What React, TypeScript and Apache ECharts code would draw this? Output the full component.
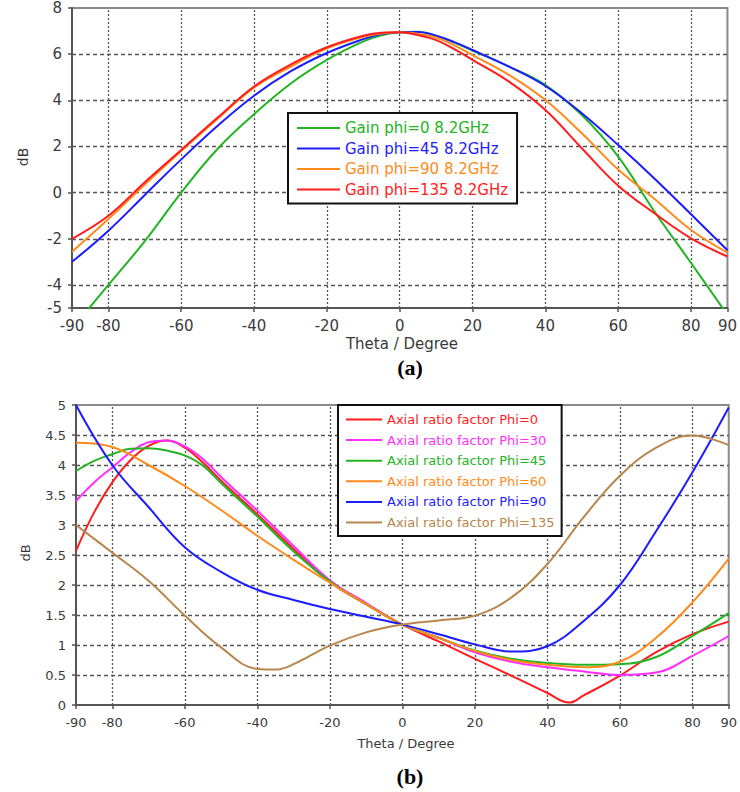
import React, { useEffect, useRef } from 'react';
import * as echarts from 'echarts';

// ---------- data ----------
// (a) Gain, dB
const THETA_A = [-90, -80, -70, -60, -50, -40, -30, -20, -10, -5, 0, 5, 10, 15, 20, 30, 40, 50, 60, 70, 80, 90];
const GAIN_PHI0 = [-5.9, -4.0, -2.1, 0.0, 1.9, 3.4, 4.72, 5.75, 6.55, 6.82, 6.95, 6.97, 6.8, 6.5, 6.15, 5.46, 4.66, 3.36, 1.56, -0.83, -3.05, -5.3];
const GAIN_PHI45 = [-3.0, -1.65, -0.1, 1.44, 2.9, 4.2, 5.25, 6.05, 6.65, 6.87, 6.95, 6.96, 6.8, 6.52, 6.18, 5.46, 4.62, 3.44, 2.06, 0.6, -0.94, -2.5];
const GAIN_PHI90 = [-2.56, -1.14, 0.35, 1.8, 3.2, 4.55, 5.45, 6.25, 6.75, 6.9, 6.95, 6.88, 6.72, 6.38, 5.96, 5.1, 4.01, 2.57, 1.0, -0.28, -1.62, -2.6];
const GAIN_PHI135 = [-2.0, -1.0, 0.45, 1.85, 3.25, 4.6, 5.55, 6.3, 6.8, 6.93, 6.95, 6.83, 6.61, 6.22, 5.75, 4.81, 3.58, 1.92, 0.3, -0.9, -1.98, -2.77];

// (b) Axial ratio, dB
const THETA_B = [-90, -80, -70, -60, -50, -40, -30, -20, -10, 0, 10, 20, 30, 40, 50, 60, 70, 80, 90];
const THETA_B_FINE = [-90, -85, -80, -75, -70, -65, -60, -55, -50, -45, -40, -30, -20, -10, 0, 10, 20, 30, 40, 50, 60, 70, 80, 90];
const THETA_AR0 = [-90, -85, -80, -75, -70, -65, -60, -55, -50, -45, -40, -30, -20, -10, 0, 10, 20, 30, 40, 46, 50, 60, 70, 80, 90];
const THETA_AR135 = [-90, -80, -70, -60, -50, -40, -35, -30, -20, -10, 0, 10, 20, 30, 40, 50, 60, 70, 80, 90];

const AR_PHI0 = [2.57, 3.21, 3.71, 4.08, 4.32, 4.41, 4.29, 4.04, 3.74, 3.46, 3.18, 2.6, 2.05, 1.68, 1.34, 1.06, 0.77, 0.49, 0.2, 0.04, 0.16, 0.49, 0.88, 1.18, 1.39];
const AR_PHI30 = [3.4, 3.71, 3.96, 4.21, 4.38, 4.41, 4.31, 4.1, 3.8, 3.52, 3.24, 2.65, 2.08, 1.7, 1.34, 1.12, 0.88, 0.72, 0.63, 0.56, 0.5, 0.54, 0.82, 1.15];
const AR_PHI45 = [3.9, 4.07, 4.18, 4.27, 4.28, 4.24, 4.16, 3.99, 3.7, 3.42, 3.14, 2.56, 2.06, 1.68, 1.34, 1.12, 0.91, 0.77, 0.7, 0.67, 0.68, 0.8, 1.15, 1.53];
const AR_PHI60 = [4.37, 4.3, 4.0, 3.65, 3.25, 2.82, 2.42, 2.04, 1.68, 1.34, 1.12, 0.9, 0.75, 0.67, 0.63, 0.72, 1.12, 1.71, 2.44];
const AR_PHI90 = [5.0, 4.0, 3.3, 2.63, 2.22, 1.92, 1.75, 1.6, 1.47, 1.34, 1.18, 1.01, 0.89, 0.98, 1.4, 2.0, 2.9, 3.88, 4.96];
const AR_PHI135 = [3.0, 2.54, 2.07, 1.49, 0.96, 0.6, 0.59, 0.68, 0.99, 1.21, 1.34, 1.41, 1.49, 1.79, 2.35, 3.13, 3.82, 4.29, 4.49, 4.33];

// ticks
const X_TICKS = [-90, -80, -60, -40, -20, 0, 20, 40, 60, 80, 90];
const X_GRID = [-80, -60, -40, -20, 0, 20, 40, 60, 80];
const Y_TICKS_A = [-5, -4, -2, 0, 2, 4, 6, 8];
const Y_GRID_A = [-4, -2, 0, 2, 4, 6];
const Y_GRID_B = [0.5, 1, 1.5, 2, 2.5, 3, 3.5, 4, 4.5];

const NAMES_A = ['Gain phi=0 8.2GHz', 'Gain phi=45 8.2GHz', 'Gain phi=90 8.2GHz', 'Gain phi=135 8.2GHz'];
const NAMES_B = [
  'Axial ratio factor Phi=0',
  'Axial ratio factor Phi=30',
  'Axial ratio factor Phi=45',
  'Axial ratio factor Phi=60',
  'Axial ratio factor Phi=90',
  'Axial ratio factor Phi=135',
];

const GREEN = '#22b422';
const BLUE = '#1c1cff';
const ORANGE = '#ff8a1c';
const RED = '#ff1c1c';
const MAGENTA = '#ff2eff';
const BROWN = '#b8864a';

const FONT = '"DejaVu Sans", Verdana, sans-serif';

const zip = (xs: number[], ys: number[]) => xs.map((x, i) => [x, ys[i]]);

export default function App() {
  const ref = useRef<HTMLDivElement>(null);

  useEffect(() => {
    if (!ref.current) return;
    const chart = echarts.init(ref.current, undefined, { renderer: 'svg' });

    const axisLine = { show: true, onZero: false, lineStyle: { color: '#555', width: 2 } };
    const dashed = { color: '#555', width: 1.3, type: [4, 3] as number[] };
    const dotted = { color: '#555', width: 1.3, type: [2, 2] as number[] };

    const gridSeries = (xi: number, yGrid: number[]) => ({
      type: 'line',
      xAxisIndex: xi,
      yAxisIndex: xi,
      data: [],
      silent: true,
      z: 1,
      markLine: {
        silent: true,
        symbol: ['none', 'none'],
        label: { show: false },
        z: 1,
        animation: false,
        data: [
          ...X_GRID.map((v) => ({ xAxis: v, lineStyle: dotted })),
          ...yGrid.map((v) => ({ yAxis: v, lineStyle: dashed })),
        ],
      },
    });

    const line = (name: string, color: string, xi: number, data: number[][]) => ({
      type: 'line',
      name,
      xAxisIndex: xi,
      yAxisIndex: xi,
      data,
      smooth: 0.4,
      showSymbol: false,
      symbol: 'none',
      z: 3,
      clip: true,
      lineStyle: { color, width: 2 },
      itemStyle: { color },
    });

    const xAxisBase = (gi: number, fs: number, margin: number) => ({
      type: 'value',
      gridIndex: gi,
      min: -90,
      max: 90,
      axisLine,
      axisTick: { show: true, length: 4, customValues: X_TICKS, lineStyle: { color: '#555', width: 1.5 } },
      axisLabel: { customValues: X_TICKS, fontSize: fs, color: '#3a3a3a', fontFamily: FONT, margin },
      splitLine: { show: false },
    });

    const colorsA = [GREEN, BLUE, ORANGE, RED];
    const colorsB = [RED, MAGENTA, GREEN, ORANGE, BLUE, BROWN];

    chart.setOption({
      animation: false,
      backgroundColor: '#fff',
      grid: [
        { left: 72, top: 8, right: 10, bottom: 484, show: true, borderColor: '#8a8a8a', borderWidth: 2, backgroundColor: 'transparent' },
        { left: 76, top: 405, right: 6, bottom: 87, show: true, borderColor: '#8a8a8a', borderWidth: 2, backgroundColor: 'transparent' },
      ],
      xAxis: [xAxisBase(0, 15, 10), xAxisBase(1, 13, 11)],
      yAxis: [
        {
          type: 'value',
          gridIndex: 0,
          min: -5,
          max: 8,
          axisLine,
          axisTick: { show: true, length: 4, customValues: Y_TICKS_A, lineStyle: { color: '#555', width: 1.5 } },
          axisLabel: { customValues: Y_TICKS_A, fontSize: 15, color: '#3a3a3a', fontFamily: FONT, margin: 10 },
          splitLine: { show: false },
        },
        {
          type: 'value',
          gridIndex: 1,
          min: 0,
          max: 5,
          interval: 0.5,
          axisLine,
          axisTick: { show: true, length: 4, lineStyle: { color: '#555', width: 1.5 } },
          axisLabel: { fontSize: 13, color: '#3a3a3a', fontFamily: FONT, margin: 10 },
          splitLine: { show: false },
        },
      ],
      legend: [
        {
          orient: 'vertical',
          left: 288,
          top: 113,
          icon: 'rect',
          itemWidth: 43,
          itemHeight: 2,
          itemGap: 4.5,
          padding: [7, 9, 6, 9],
          backgroundColor: '#fff',
          borderColor: '#111',
          borderWidth: 2,
          borderRadius: 0,
          selectedMode: false,
          textStyle: { fontSize: 15, fontFamily: FONT, lineHeight: 16 },
          data: NAMES_A.map((n, i) => ({ name: n, textStyle: { color: colorsA[i] } })),
        },
        {
          orient: 'vertical',
          left: 338,
          top: 405,
          icon: 'rect',
          itemWidth: 36,
          itemHeight: 2,
          itemGap: 5.6,
          padding: [7, 7, 6, 8],
          backgroundColor: '#fff',
          borderColor: '#111',
          borderWidth: 2,
          borderRadius: 0,
          selectedMode: false,
          textStyle: { fontSize: 13, fontFamily: FONT, lineHeight: 15 },
          data: NAMES_B.map((n, i) => ({ name: n, textStyle: { color: colorsB[i] } })),
        },
      ],
      graphic: [
        { type: 'text', x: 23, y: 157, rotation: Math.PI / 2, style: { text: 'dB', font: `14px ${FONT}`, fill: '#3a3a3a', textAlign: 'center', textVerticalAlign: 'middle' } },
        { type: 'text', x: 402, y: 344, style: { text: 'Theta / Degree', font: `15px ${FONT}`, fill: '#3a3a3a', textAlign: 'center', textVerticalAlign: 'middle' } },
        { type: 'text', x: 410, y: 367, style: { text: '(a)', font: `bold 22px "Liberation Serif", "Times New Roman", serif`, fill: '#000', textAlign: 'center', textVerticalAlign: 'middle' } },
        { type: 'text', x: 25, y: 553, rotation: Math.PI / 2, style: { text: 'dB', font: `13px ${FONT}`, fill: '#3a3a3a', textAlign: 'center', textVerticalAlign: 'middle' } },
        { type: 'text', x: 406, y: 743, style: { text: 'Theta / Degree', font: `13px ${FONT}`, fill: '#3a3a3a', textAlign: 'center', textVerticalAlign: 'middle' } },
        { type: 'text', x: 410, y: 776, style: { text: '(b)', font: `bold 22px "Liberation Serif", "Times New Roman", serif`, fill: '#000', textAlign: 'center', textVerticalAlign: 'middle' } },
      ],
      series: [
        gridSeries(0, Y_GRID_A),
        gridSeries(1, Y_GRID_B),
        line(NAMES_A[0], GREEN, 0, zip(THETA_A, GAIN_PHI0)),
        line(NAMES_A[1], BLUE, 0, zip(THETA_A, GAIN_PHI45)),
        line(NAMES_A[2], ORANGE, 0, zip(THETA_A, GAIN_PHI90)),
        line(NAMES_A[3], RED, 0, zip(THETA_A, GAIN_PHI135)),
        line(NAMES_B[0], RED, 1, zip(THETA_AR0, AR_PHI0)),
        line(NAMES_B[1], MAGENTA, 1, zip(THETA_B_FINE, AR_PHI30)),
        line(NAMES_B[2], GREEN, 1, zip(THETA_B_FINE, AR_PHI45)),
        line(NAMES_B[3], ORANGE, 1, zip(THETA_B, AR_PHI60)),
        line(NAMES_B[4], BLUE, 1, zip(THETA_B, AR_PHI90)),
        line(NAMES_B[5], BROWN, 1, zip(THETA_AR135, AR_PHI135)),
      ],
    });

    return () => chart.dispose();
  }, []);

  return <div ref={ref} style={{ width: 740, height: 792, position: 'absolute', left: 0, top: 0 }} />;
}
